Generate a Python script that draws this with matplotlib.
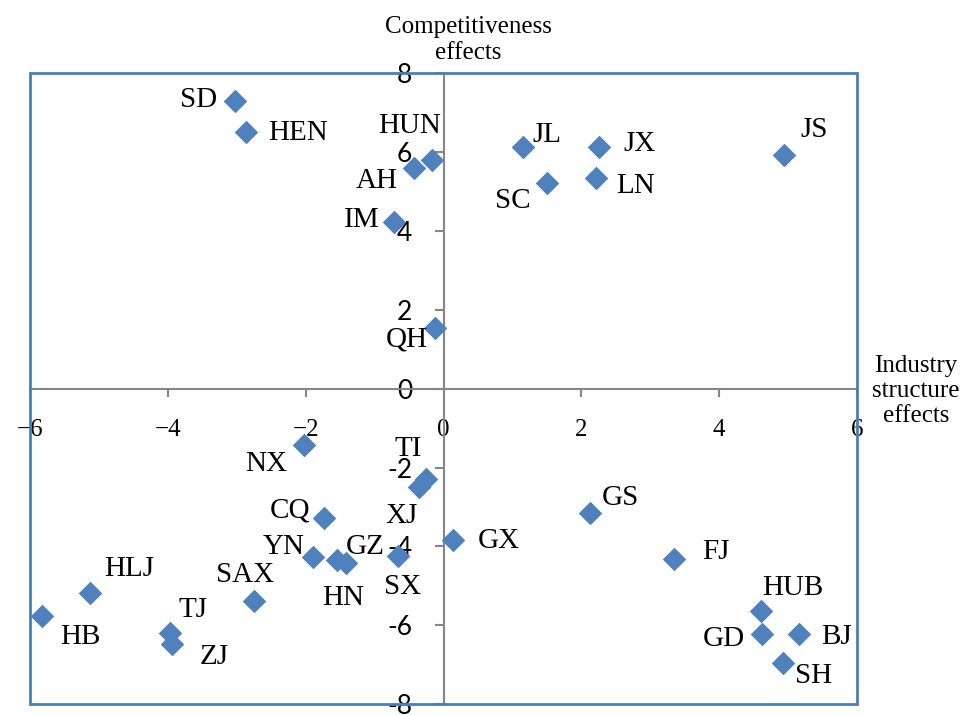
import matplotlib
matplotlib.use("Agg")
import matplotlib.pyplot as plt
from matplotlib.patches import Rectangle

# Regions: industry structure effect (x) vs competitiveness effect (y)
regions = ["SD", "HEN", "HUN", "AH", "IM", "QH", "JL", "JX", "SC", "LN", "JS",
           "NX", "TI", "XJ", "CQ", "YN", "GZ", "HN", "SX", "GX", "HLJ", "HB",
           "TJ", "ZJ", "SAX", "GS", "FJ", "HUB", "GD", "BJ", "SH"]
structure_effect = [-3.03, -2.86, -0.16, -0.43, -0.72, -0.12, 1.16, 2.25, 1.50, 2.22, 4.94,
                    -2.03, -0.26, -0.35, -1.74, -1.89, -1.41, -1.54, -0.66, 0.14, -5.13, -5.83,
                    -3.97, -3.94, -2.75, 2.12, 3.34, 4.61, 4.62, 5.16, 4.93]
competitiveness_effect = [7.29, 6.52, 5.80, 5.60, 4.23, 1.55, 6.12, 6.12, 5.23, 5.34, 5.94,
                          -1.44, -2.30, -2.49, -3.29, -4.27, -4.42, -4.35, -4.24, -3.83, -5.18, -5.76,
                          -6.19, -6.47, -5.39, -3.16, -4.31, -5.64, -6.22, -6.23, -6.95]

x_ticks = [-6, -4, -2, 0, 2, 4, 6]
x_tick_labels = ["\u22126", "\u22124", "\u22122", "0", "2", "4", "6"]
y_ticks = [-8, -6, -4, -2, 0, 2, 4, 6, 8]
y_tick_labels = ["-8", "-6", "-4", "-2", "0", "2", "4", "6", "8"]

# label placement relative to each marker, in image pixels (right, down)
label_offsets = {
    "SD": (-36, -1), "HEN": (52, 1), "HUN": (-23, -34), "AH": (-37, 13),
    "IM": (-32, -2), "QH": (-28, 12), "JL": (23, -12), "JX": (41, -3),
    "SC": (-34, 18), "LN": (39, 8), "JS": (30, -25), "NX": (-37, 19),
    "TI": (-17, -30), "XJ": (-18, 29), "CQ": (-34, -8), "YN": (-30, -10),
    "GZ": (19, -16), "HN": (6, 38), "SX": (5, 31), "GX": (46, 1),
    "HLJ": (39, -24), "HB": (39, 21), "TJ": (23, -23), "ZJ": (42, 13),
    "SAX": (-9, -26), "GS": (31, -15), "FJ": (42, -7), "HUB": (32, -23),
    "GD": (-38, 5), "BJ": (37, 3), "SH": (30, 13),
}

serif = "Liberation Serif"
blue = "#4F81BD"
gray = "#868686"

fig = plt.figure(figsize=(9.63, 7.15), dpi=100)
ax = fig.add_axes([30 / 963, 0.0154, 827 / 963, 0.882])
ax.set_xlim(-6, 6)
ax.set_ylim(-8, 8)

ax.scatter(structure_effect, competitiveness_effect, marker="D", s=12 ** 2,
           color=blue, linewidths=0, zorder=3)

for name, x, y in zip(regions, structure_effect, competitiveness_effect):
    dx, dy = label_offsets[name]
    ax.annotate(name, (x, y), xytext=(dx, -dy), textcoords="offset pixels",
                ha="center", va="center", fontsize=21, family=serif, zorder=4)

# crossed axes through the origin
for side in ("top", "right"):
    ax.spines[side].set_visible(False)
ax.spines["left"].set_position(("data", 0))
ax.spines["bottom"].set_position(("data", 0))
for side in ("left", "bottom"):
    ax.spines[side].set_color(gray)
    ax.spines[side].set_linewidth(1.5)

ax.set_xticks(x_ticks)
ax.set_xticklabels(x_tick_labels, family=serif, fontsize=18)
ax.set_yticks(y_ticks)
ax.set_yticklabels(y_tick_labels, family="Lato", fontsize=19)
ax.tick_params(axis="x", direction="out", length=6, width=1.5, color=gray, pad=16)
ax.tick_params(axis="y", direction="out", length=6.5, width=1.5, color=gray, pad=16)

# blue plot-area frame
ax.add_patch(Rectangle((0, 0), 1, 1, transform=ax.transAxes, fill=False,
                       edgecolor="#4A7EBB", linewidth=2, clip_on=False, zorder=5))

fig.text(468 / 963, 1 - 40 / 715, "Competitiveness\neffects", ha="center", va="center",
         fontsize=18, family=serif, linespacing=1.2)
fig.text(916 / 963, 1 - 391 / 715, "Industry\nstructure\neffects", ha="center", va="center",
         fontsize=18, family=serif, linespacing=1.2)

fig.savefig("out.png", dpi=100)
